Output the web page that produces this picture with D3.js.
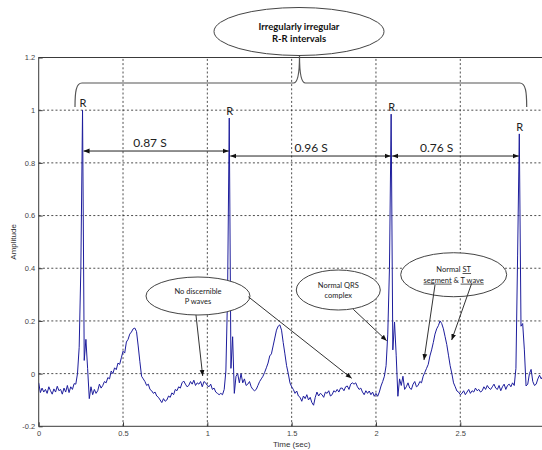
<!DOCTYPE html>
<html>
<head>
<meta charset="utf-8">
<script src="https://cdn.jsdelivr.net/npm/d3@7"></script>
<style>
  body { margin: 0; background: #fff; }
  svg { display: block; }
</style>
</head>
<body>
<svg id="chart" width="542" height="450"></svg>
<script>
// ECG trace sampled at 100 Hz, one array per second of recording (amplitude, mV-normalised)
const sampleRate = 100;
const ecgSecond0 = [
  -0.035, -0.072, -0.055, -0.07, -0.06, -0.075, -0.05, -0.065, -0.078, -0.058,
  -0.07, -0.048, -0.065, -0.06, -0.078, -0.055, -0.07, -0.045, -0.072, -0.05,
  -0.06, -0.038, -0.04, 0.0, 0.1, 0.4, 1.0, 0.05, 0.13, 0.02,
  -0.095, -0.05, -0.08, -0.06, -0.075, -0.065, -0.04, -0.055, -0.045, -0.03,
  -0.035, -0.015, -0.02, 0.01, 0.0, 0.022, 0.015, 0.04, 0.035, 0.06,
  0.085, 0.078, 0.12, 0.13, 0.15, 0.158, 0.17, 0.173, 0.16, 0.105,
  0.045, -0.01, -0.02, -0.03, -0.045, -0.04, -0.06, -0.065, -0.075, -0.07,
  -0.085, -0.09, -0.1, -0.11, -0.095, -0.105, -0.1, -0.085, -0.09, -0.073,
  -0.08, -0.06, -0.065, -0.05, -0.055, -0.035, -0.028, -0.04, -0.05, -0.045,
  -0.03, -0.04, -0.025, -0.045, -0.035, -0.04, -0.03, -0.05, -0.03, -0.035
];
const ecgSecond1 = [
  -0.045, -0.05, -0.04, -0.06, -0.055, -0.07, -0.075, -0.08, -0.075, -0.08,
  -0.06, 0.01, 0.3, 0.97, 0.02, 0.14, -0.075, -0.01, 0.0, -0.035,
  0.0, -0.035, -0.02, -0.045, -0.04, -0.03, -0.05, -0.06, -0.065, -0.06,
  -0.045, -0.03, -0.02, -0.01, 0.005, 0.022, 0.04, 0.067, 0.075, 0.105,
  0.135, 0.165, 0.18, 0.185, 0.165, 0.118, 0.075, 0.03, 0.0, -0.035,
  -0.05, -0.06, -0.075, -0.066, -0.085, -0.09, -0.105, -0.085, -0.095, -0.08,
  -0.1, -0.09, -0.11, -0.12, -0.09, -0.07, -0.085, -0.075, -0.08, -0.09,
  -0.07, -0.075, -0.065, -0.085, -0.08, -0.065, -0.07, -0.06, -0.07, -0.055,
  -0.055, -0.065, -0.05, -0.047, -0.06, -0.04, -0.035, -0.04, -0.035, -0.05,
  -0.06, -0.055, -0.07, -0.08, -0.065, -0.075, -0.066, -0.08, -0.07, -0.086
];
const ecgSecond2 = [
  -0.075, -0.086, -0.07, -0.047, -0.03, -0.01, 0.03, 0.15, 0.4, 0.985,
  0.09, 0.196, 0.07, -0.086, -0.02, -0.045, -0.01, -0.06, -0.05, -0.035,
  -0.055, -0.06, -0.04, -0.03, -0.05, -0.045, -0.03, -0.035, -0.01, 0.005,
  0.02, 0.035, 0.067, 0.09, 0.118, 0.15, 0.17, 0.182, 0.2, 0.19,
  0.17, 0.14, 0.11, 0.07, 0.03, 0.0, -0.035, -0.05, -0.066, -0.07,
  -0.08, -0.075, -0.065, -0.08, -0.07, -0.06, -0.075, -0.065, -0.07, -0.055,
  -0.065, -0.06, -0.07, -0.065, -0.05, -0.06, -0.045, -0.055, -0.06, -0.05,
  -0.04, -0.055, -0.06, -0.045, -0.065, -0.05, -0.04, -0.06, -0.045, -0.04,
  -0.05, -0.035, -0.045, 0.02, 0.45, 0.91, 0.18, 0.19, 0.09, -0.047,
  -0.04, 0.0, 0.016, -0.03, -0.045, -0.04, -0.02, -0.006, -0.02, -0.01
];

// R-peak instants (s) and the R-R intervals between them
const rPeakTimes = [0.26, 1.13, 2.09, 2.85];
const rrLabels = ["0.87 S", "0.96 S", "0.76 S"];

// Axis ticks
const xTicks = [0, 0.5, 1, 1.5, 2, 2.5];
const yTicks = [-0.2, 0, 0.2, 0.4, 0.6, 0.8, 1, 1.2];

// ---------------------------------------------------------------
const amplitude = [...ecgSecond0, ...ecgSecond1, ...ecgSecond2];
const samples = amplitude.map((v, i) => ({ t: i / sampleRate, v }));
const valueAt = t => amplitude[Math.round(t * sampleRate)];

const svg = d3.select("#chart");
const x = d3.scaleLinear().domain([0, 3]).range([38.7, 544.6]);
const y = d3.scaleLinear().domain([-0.2, 1.2]).range([426.3, 57.5]);

const axisColor = "#3a3a3a";
const labelFont = "'Liberation Sans', Arial, sans-serif";
const noteFont = "Lato, 'Open Sans', sans-serif";

svg.append("rect").attr("width", 542).attr("height", 450).attr("fill", "#fff");

const defs = svg.append("defs");
defs.append("clipPath").attr("id", "plotClip")
  .append("rect")
  .attr("x", x(0)).attr("y", y(1.2))
  .attr("width", x(3) - x(0)).attr("height", y(-0.2) - y(1.2));

defs.append("marker")
  .attr("id", "arrowHead")
  .attr("viewBox", "0 0 10 10")
  .attr("refX", 10).attr("refY", 5)
  .attr("markerWidth", 6).attr("markerHeight", 6)
  .attr("markerUnits", "userSpaceOnUse")
  .attr("orient", "auto-start-reverse")
  .append("path").attr("d", "M0,1L10,5L0,9Z").attr("fill", "#111");

// Dotted grid
const grid = svg.append("g").attr("stroke", "#222").attr("stroke-width", 0.8)
  .attr("stroke-dasharray", "2,2.2");
grid.selectAll("line.h").data(yTicks.filter(d => d > -0.2 && d < 1.2)).join("line")
  .attr("class", "h")
  .attr("x1", x(0)).attr("x2", x(3))
  .attr("y1", d => y(d)).attr("y2", d => y(d));
grid.selectAll("line.v").data(xTicks.filter(d => d > 0)).join("line")
  .attr("class", "v")
  .attr("y1", y(-0.2)).attr("y2", y(1.2))
  .attr("x1", d => x(d)).attr("x2", d => x(d));

// Axes with inward ticks
const yAxis = svg.append("g").attr("transform", `translate(${x(0)},0)`)
  .call(d3.axisLeft(y).tickValues(yTicks).tickSize(-4).tickPadding(3.5)
    .tickFormat(d => String(d)));
const xAxis = svg.append("g").attr("transform", `translate(0,${y(-0.2)})`)
  .call(d3.axisBottom(x).tickValues(xTicks).tickSize(-4).tickPadding(4)
    .tickFormat(d => String(d)));
[yAxis, xAxis].forEach(g => {
  g.select(".domain").remove();
  g.selectAll(".tick line").attr("stroke", axisColor);
  g.selectAll(".tick text").attr("fill", "#444")
    .style("font-family", labelFont).style("font-size", "7.5px");
});

// Plot frame
svg.append("rect")
  .attr("x", x(0)).attr("y", y(1.2))
  .attr("width", x(3) - x(0)).attr("height", y(-0.2) - y(1.2))
  .attr("fill", "none").attr("stroke", axisColor).attr("stroke-width", 1);

// Axis titles
svg.append("text").attr("x", x(1.5)).attr("y", 447)
  .attr("text-anchor", "middle").attr("fill", "#333")
  .style("font-family", labelFont).style("font-size", "8px").text("Time (sec)");
svg.append("text")
  .attr("transform", `translate(16,${(y(-0.2) + y(1.2)) / 2}) rotate(-90)`)
  .attr("text-anchor", "middle").attr("fill", "#333")
  .style("font-family", labelFont).style("font-size", "8px").text("Amplitude");

// ECG trace
svg.append("path")
  .datum(samples)
  .attr("clip-path", "url(#plotClip)")
  .attr("fill", "none")
  .attr("stroke", "#1d1d9c")
  .attr("stroke-width", 1)
  .attr("stroke-linejoin", "round")
  .attr("d", d3.line().x(d => x(d.t)).y(d => y(d.v)));

// R labels above each peak
svg.selectAll("text.rlabel").data(rPeakTimes).join("text")
  .attr("class", "rlabel")
  .attr("x", d => x(d) + 0.5)
  .attr("y", d => y(valueAt(d)) - 3)
  .attr("text-anchor", "middle").attr("fill", "#222")
  .style("font-family", noteFont).style("font-size", "11px")
  .text("R");

// R-R interval arrows
const intervals = rrLabels.map((label, i) => ({
  from: rPeakTimes[i], to: rPeakTimes[i + 1], label,
  level: i === 0 ? 0.845 : 0.826,
  labelT: [0.66, 1.615, 2.36][i]
}));
svg.selectAll("line.rr").data(intervals).join("line")
  .attr("class", "rr")
  .attr("x1", d => x(d.from) + 1).attr("x2", d => x(d.to) - 0.5)
  .attr("y1", d => y(d.level)).attr("y2", d => y(d.level))
  .attr("stroke", "#222").attr("stroke-width", 1)
  .attr("marker-start", "url(#arrowHead)").attr("marker-end", "url(#arrowHead)");
svg.selectAll("text.rr").data(intervals).join("text")
  .attr("class", "rr")
  .attr("x", d => x(d.labelT)).attr("y", d => y(d.level) - 4.5)
  .attr("text-anchor", "middle").attr("fill", "#222")
  .style("font-family", noteFont).style("font-size", "12px")
  .text(d => d.label);

// Brace spanning all R-R intervals
const braceY = 83, braceLeft = 75, braceRight = 526.7, braceMid = 299.5;
svg.append("path")
  .attr("d", `M${braceLeft},107 C${braceLeft},92 ${braceLeft + 1},${braceY} ${braceLeft + 7},${braceY}
              L${braceMid - 6},${braceY} Q${braceMid},${braceY} ${braceMid},56
              Q${braceMid},${braceY} ${braceMid + 6},${braceY}
              L${braceRight - 7},${braceY} C${braceRight - 1},${braceY} ${braceRight},92 ${braceRight},107`)
  .attr("fill", "none").attr("stroke", "#555").attr("stroke-width", 1.2);

// Title callout
svg.append("ellipse").attr("cx", 299).attr("cy", 31.5).attr("rx", 85).attr("ry", 24)
  .attr("fill", "#fff").attr("stroke", "#444").attr("stroke-width", 1);
svg.append("text").attr("x", 299).attr("y", 29.5).attr("text-anchor", "middle")
  .attr("fill", "#111").style("font-family", noteFont).style("font-size", "9.5px")
  .style("font-weight", "bold").text("Irregularly irregular");
svg.append("text").attr("x", 299).attr("y", 42).attr("text-anchor", "middle")
  .attr("fill", "#111").style("font-family", noteFont).style("font-size", "9.5px")
  .style("font-weight", "bold").text("R-R intervals");

// Callouts inside the plot: ellipse, text lines and pointer arrows
const callouts = [
  { t: 0.9446, v: 0.2946, rx: 52, ry: 19,
    lines: [[["No discernible", false]], [["P waves", false]]],
    arrows: [[0.9327, 0.2224, 0.9725, -0.009], [1.2429, 0.2919, 1.856, -0.018]] },
  { t: 1.7766, v: 0.3174, rx: 42, ry: 20,
    lines: [[["Normal QRS", false]], [["complex", false]]],
    arrows: [[1.8655, 0.2441, 2.0636, 0.1249]] },
  { t: 2.4609, v: 0.3754, rx: 53, ry: 22,
    lines: [[["Normal ", false], ["ST", true]], [["segment", true], [" & ", false], ["T wave", true]]],
    arrows: [[2.35, 0.3363, 2.2848, 0.0516], [2.5676, 0.3428, 2.449, 0.1275]] }
];

callouts.forEach(c => {
  const g = svg.append("g");
  g.append("ellipse").attr("cx", x(c.t)).attr("cy", y(c.v))
    .attr("rx", c.rx).attr("ry", c.ry)
    .attr("fill", "#fff").attr("stroke", "#444").attr("stroke-width", 1);
  c.lines.forEach((parts, i) => {
    const txt = g.append("text")
      .attr("x", x(c.t)).attr("y", y(c.v) - 2.5 + i * 10.5)
      .attr("text-anchor", "middle").attr("fill", "#222")
      .style("font-family", noteFont).style("font-size", "7.5px");
    parts.forEach(([s, u]) => {
      txt.append("tspan").text(s)
        .style("text-decoration", u ? "underline" : "none")
        .attr("xml:space", "preserve");
    });
  });
  c.arrows.forEach(([t0, v0, t1, v1]) => {
    g.append("line")
      .attr("x1", x(t0)).attr("y1", y(v0)).attr("x2", x(t1)).attr("y2", y(v1))
      .attr("stroke", "#333").attr("stroke-width", 1)
      .attr("marker-end", "url(#arrowHead)");
  });
});
</script>
</body>
</html>
